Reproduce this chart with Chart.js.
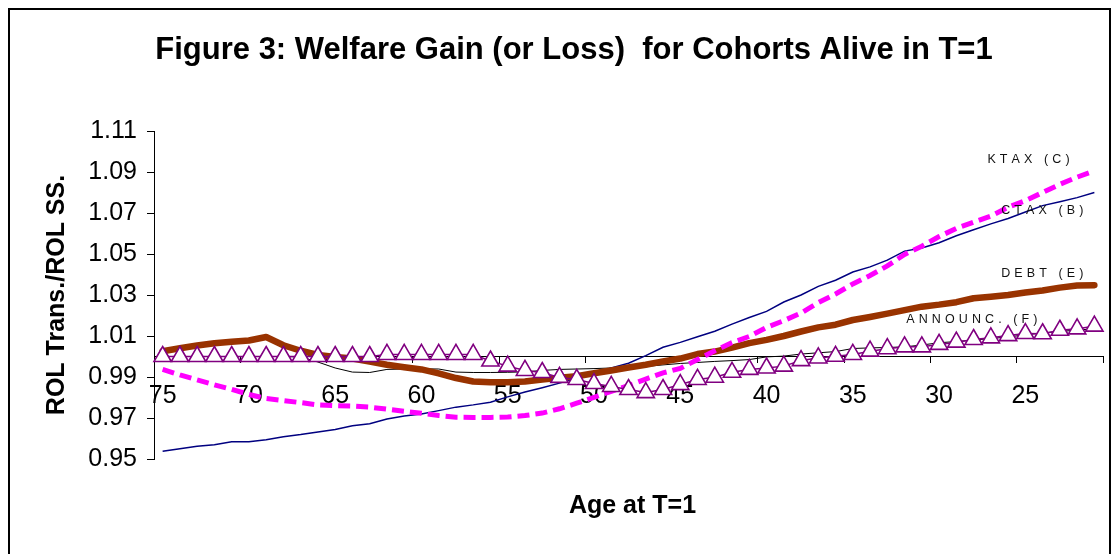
<!DOCTYPE html>
<html>
<head>
<meta charset="utf-8">
<script src="https://cdn.jsdelivr.net/npm/chart.js@4/dist/chart.umd.min.js"></script>
<style>
  html, body { margin: 0; padding: 0; background: #fff; }
  #wrap { position: relative; width: 1116px; height: 554px; }
</style>
</head>
<body>
<div id="wrap"><canvas id="chart" width="1116" height="554"></canvas></div>
<script>
// idade na data T=1 (eixo x, de 75 a 21)
const ages = [75, 74, 73, 72, 71, 70, 69, 68, 67, 66, 65, 64, 63, 62, 61,
  60, 59, 58, 57, 56, 55, 54, 53, 52, 51, 50, 49, 48, 47, 46, 45, 44, 43, 42, 41,
  40, 39, 38, 37, 36, 35, 34, 33, 32, 31, 30, 29, 28, 27, 26, 25, 24, 23, 22, 21];

const yTicks = [0.95, 0.97, 0.99, 1.01, 1.03, 1.05, 1.07, 1.09, 1.11];

// series
const ctax = [0.9538, 0.9550, 0.9562, 0.9570, 0.9584,
  0.9584, 0.9594, 0.9608, 0.9619, 0.9632,
  0.9644, 0.9662, 0.9672, 0.9695, 0.9710,
  0.9719, 0.9736, 0.9753, 0.9764, 0.9777,
  0.9803, 0.9827, 0.9848, 0.9870, 0.9894,
  0.9917, 0.9944, 0.9967, 1.0004, 1.0045,
  1.0069, 1.0096, 1.0123, 1.0158, 1.0190,
  1.0220, 1.0266, 1.0300, 1.0342, 1.0372,
  1.0412, 1.0437, 1.0470, 1.0514, 1.0529,
  1.0555, 1.0589, 1.0618, 1.0647, 1.0673,
  1.0705, 1.0736, 1.0755, 1.0775, 1.0800];

const ktax = [0.9937, 0.9910, 0.9886, 0.9862, 0.9840,
  0.9815, 0.9795, 0.9785, 0.9775, 0.9764,
  0.9760, 0.9758, 0.9753, 0.9743, 0.9733,
  0.9723, 0.9712, 0.9704, 0.9703, 0.9703,
  0.9705, 0.9712, 0.9724, 0.9745, 0.9772,
  0.9801, 0.9830, 0.9858, 0.9890, 0.9920,
  0.9942, 0.9985, 1.0028, 1.0068, 1.0098,
  1.0142, 1.0175, 1.0212, 1.0263, 1.0305,
  1.0354, 1.0395, 1.0442, 1.0498, 1.0538,
  1.0585, 1.0625, 1.0655, 1.0685, 1.0728,
  1.0760, 1.0800, 1.0840, 1.0875, 1.0905];

const debt = [1.0026, 1.0040, 1.0054, 1.0065, 1.0072,
  1.0078, 1.0095, 1.0055, 1.0028, 1.0008,
  0.9998, 0.9990, 0.9975, 0.9960, 0.9948,
  0.9937, 0.9918, 0.9895, 0.9878, 0.9874,
  0.9874, 0.9878, 0.9888, 0.9896, 0.9904,
  0.9918, 0.9932, 0.9946, 0.9960, 0.9976,
  0.9990, 1.0012, 1.0024, 1.0043, 1.0065,
  1.0081, 1.0100, 1.0122, 1.0142, 1.0155,
  1.0178, 1.0193, 1.0209, 1.0226, 1.0243,
  1.0253, 1.0265, 1.0284, 1.0292, 1.0300,
  1.0312, 1.0322, 1.0336, 1.0346, 1.0348];

const announc = [1.0000, 1.0000, 1.0000, 1.0000, 1.0000,
  1.0000, 1.0000, 1.0000, 1.0000, 1.0000,
  1.0000, 1.0000, 1.0000, 1.0010, 1.0010,
  1.0010, 1.0010, 1.0010, 1.0010, 0.9978,
  0.9953, 0.9932, 0.9922, 0.9898, 0.9888,
  0.9868, 0.9854, 0.9839, 0.9824, 0.9839,
  0.9863, 0.9888, 0.9899, 0.9923, 0.9937,
  0.9944, 0.9953, 0.9980, 0.9993, 1.0001,
  1.0010, 1.0026, 1.0038, 1.0047, 1.0047,
  1.0059, 1.0070, 1.0083, 1.0091, 1.0102,
  1.0112, 1.0111, 1.0128, 1.0135, 1.0148];

// linha preta fina sem rótulo na figura
const seriesD = [1.0000, 1.0000, 1.0000, 1.0000, 1.0000,
  1.0000, 1.0000, 1.0000, 0.9998, 0.9973,
  0.9944, 0.9924, 0.9922, 0.9937, 0.9939,
  0.9940, 0.9939, 0.9924, 0.9922, 0.9922,
  0.9923, 0.9925, 0.9932, 0.9937, 0.9939,
  0.9941, 0.9944, 0.9946, 0.9951, 0.9959,
  0.9966, 0.9971, 0.9976, 0.9980, 0.9985,
  0.9998, 1.0002, 1.0012, 1.0018, 1.0024,
  1.0039, 1.0042, 1.0044, 1.0047, 1.0056,
  1.0067, 1.0073, 1.0080, 1.0088, 1.0095,
  1.0106, 1.0115, 1.0122, 1.0129, 1.0135];

// rótulos dentro do gráfico (posição em índice de categoria / valor)
const noteTexts = ["KTAX (C)", "CTAX (B)", "DEBT (E)", "ANNOUNC. (F)"];
const noteIdx = [47.8, 48.6, 48.6, 43.1];
const noteVal = [1.0963, 1.0714, 1.0403, 1.0180];

const FONT = '"Liberation Sans", Arial, sans-serif';

function spacedText(ctx, txt, x, y, gap) {
  for (const ch of txt) {
    ctx.fillText(ch, x, y);
    x += ctx.measureText(ch).width + gap;
  }
}

const decor = {
  id: "decor",
  beforeDraw(chart) {
    const ctx = chart.ctx;
    ctx.save();
    ctx.fillStyle = "#fff";
    ctx.fillRect(0, 0, chart.width, chart.height);
    ctx.restore();
  },
  afterDraw(chart) {
    const ctx = chart.ctx;
    const area = chart.chartArea;
    const xs = chart.scales.x;
    const ys = chart.scales.y;
    ctx.save();
    // moldura
    ctx.strokeStyle = "#000";
    ctx.lineWidth = 2;
    ctx.strokeRect(9, 9, 1101, 560);

    ctx.fillStyle = "#000";
    ctx.textAlign = "center";
    ctx.textBaseline = "middle";
    ctx.font = "bold 31px " + FONT;
    ctx.fillText("Figure 3: Welfare Gain (or Loss)  for Cohorts Alive in T=1", 574, 50);

    ctx.font = "bold 25px " + FONT;
    ctx.fillText("Age at T=1", (area.left + area.right) / 2 + 4, 506);

    ctx.save();
    ctx.translate(57, (area.top + area.bottom) / 2);
    ctx.rotate(-Math.PI / 2);
    ctx.fillText("ROL Trans./ROL SS.", 0, 0);
    ctx.restore();

    ctx.font = "12.5px " + FONT;
    ctx.textAlign = "left";
    ctx.fillStyle = "#111";
    noteTexts.forEach((t, i) => {
      spacedText(ctx, t, xs.getPixelForValue(noteIdx[i]), ys.getPixelForValue(noteVal[i]), 4.1);
    });
    ctx.restore();
  }
};

new Chart(document.getElementById("chart"), {
  type: "line",
  data: {
    labels: ages.map(String),
    datasets: [
      {
        label: "ANNOUNC. (F)", data: announc,
        borderColor: "#800080", borderWidth: 1.5,
        pointStyle: "triangle", pointRadius: 10,
        pointBackgroundColor: "#fff", pointBorderColor: "#800080", pointBorderWidth: 1.6
      },
      {
        label: "KTAX (C)", data: ktax,
        borderColor: "#ff00ff", borderWidth: 5, borderDash: [12, 6],
        borderCapStyle: "butt", pointRadius: 0
      },
      {
        label: "DEBT (E)", data: debt,
        borderColor: "#993300", borderWidth: 6.5, pointRadius: 0,
        borderCapStyle: "round", borderJoinStyle: "round"
      },
      {
        label: "CTAX (B)", data: ctax,
        borderColor: "#000080", borderWidth: 1.5, pointRadius: 0
      },
      {
        label: "D", data: seriesD,
        borderColor: "#000", borderWidth: 1, pointRadius: 0
      }
    ]
  },
  options: {
    responsive: false,
    animation: false,
    devicePixelRatio: 1,
    layout: { padding: { top: 131, bottom: 95, left: 0, right: 13 } },
    elements: { line: { tension: 0 } },
    plugins: { legend: { display: false }, tooltip: { enabled: false }, title: { display: false } },
    scales: {
      x: {
        type: "category",
        position: { y: 1.0 },
        offset: true,
        grid: {
          offset: true,
          drawOnChartArea: false,
          drawTicks: true,
          tickLength: 6,
          tickColor: (c) => (c.index === undefined || c.index % 5 === 0) ? "#000" : "rgba(0,0,0,0)"
        },
        border: { display: true, color: "#000", width: 1 },
        ticks: {
          autoSkip: false, maxRotation: 0, minRotation: 0,
          padding: 19, color: "#000",
          font: { size: 25, family: FONT },
          callback: (v, i) => (ages[i] % 5 === 0 ? String(ages[i]) : "")
        }
      },
      y: {
        min: 0.95, max: 1.11,
        afterFit: (s) => { s.width = 154; },
        afterBuildTicks: (s) => { s.ticks = yTicks.map((v) => ({ value: v })); },
        grid: { drawOnChartArea: false, drawTicks: true, tickLength: 7, color: "#000" },
        border: { display: true, color: "#000", width: 1 },
        ticks: {
          padding: 10, color: "#000",
          font: { size: 25, family: FONT },
          callback: (v) => v.toFixed(2)
        }
      }
    }
  },
  plugins: [decor]
});
</script>
</body>
</html>
